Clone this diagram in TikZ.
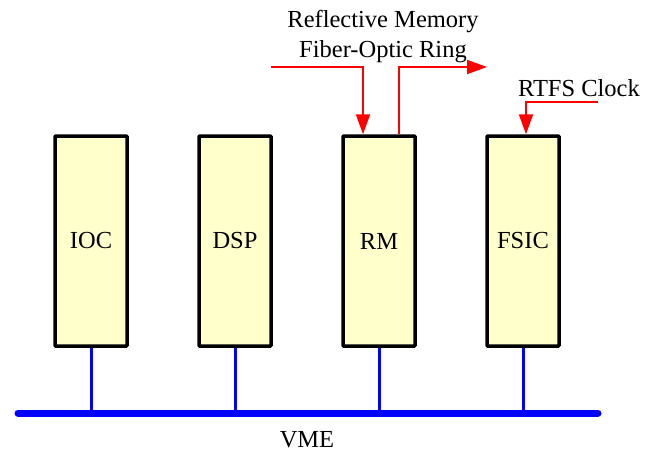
\documentclass[tikz,border=0pt]{standalone}
\usepackage{fontspec}
\setmainfont{Liberation Serif}
\usetikzlibrary{arrows.meta}
\usetikzlibrary{positioning}

\definecolor{boardfill}{HTML}{FFFFCC}
\definecolor{vmeblue}{RGB}{0,0,255}

\tikzset{
  lbl/.style={font=\fontsize{24.5}{30}\selectfont, inner sep=0pt},
  board/.style={lbl, draw=black, line width=3.5pt, fill=boardfill,
    minimum width=72pt, minimum height=210pt, rounded corners=0.8pt},
  busline/.style={draw=vmeblue, line width=7pt, line cap=round},
  stub/.style={draw=vmeblue, line width=3pt},
  signal/.style={draw=red, line width=2pt, -{Triangle[length=20pt, width=14pt]}}
}

\begin{document}
\begin{tikzpicture}[x=1pt, y=-1pt]
        \useasboundingbox (0,0) rectangle (649,453);

        % Boards in the VME crate
        \foreach \name/\txt [count=\i from 0] in {ioc/IOC, dsp/DSP, rm/RM, fsic/FSIC} {
            \node[board] (\name) at (91+144*\i,241) {\txt};
        }

        % VME bus
        \coordinate (busL) at (18,413);
        \coordinate (busR) at (598,413);
        \draw[busline] (busL) -- (busR);
        \node[lbl] (vme) at (307,440) {VME};
        \foreach \name in {ioc,dsp,rm,fsic} {
            \draw[stub] (\name.south) -- (\name.south |- busL);
        }

        % Fiber-optic ring in and out of RM
        \node[lbl, align=center] (ring) at (383,37) {Reflective Memory\\Fiber-Optic Ring};
        \coordinate (ringin) at (271,67);
        \coordinate (ringout) at (487,67);
        \draw[signal] (ringin) -| ([xshift=-16pt]rm.north);
        \draw[signal] ([xshift=20pt]rm.north) |- (ringout);

        % Clock into FSIC
        \node[lbl] (clk) at (579,88) {RTFS Clock};
        \coordinate (clkin) at (598,102);
        \draw[signal] (clkin) -| ([xshift=3pt]fsic.north);

\end{tikzpicture}
\end{document}
